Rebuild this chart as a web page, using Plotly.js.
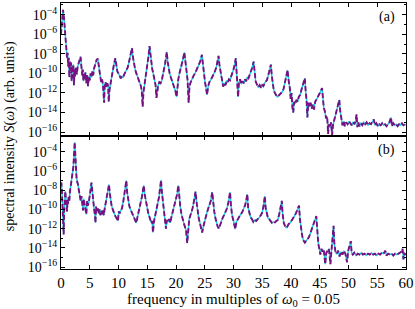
<!DOCTYPE html>
<html>
<head>
<meta charset="utf-8">
<script src="https://cdn.plot.ly/plotly-3.0.1.min.js"></script>
<style>html,body{margin:0;padding:0;background:#fff;}#plot{width:415px;height:309px;}</style>
</head>
<body>
<div id="plot"></div>
<script>
// Panel (a): frequency (multiples of w0) and log10 of spectral intensity
const freqA = [0.0,0.15,0.35,0.5,0.65,0.8,0.95,1.05,1.15,1.25,1.35,1.45,1.55,1.65,1.75,1.85,1.95,2.05,2.15,2.25,2.35,2.45,2.6,2.75,2.9,3.05,3.2,3.4,3.55,3.7,3.8,3.9,4.0,4.1,4.25,4.4,4.55,4.7,4.85,5.0,5.15,5.3,5.45,5.6,5.75,5.9,6.05,6.2,6.4,6.55,6.7,6.85,7.0,7.15,7.3,7.5,7.6,7.75,7.9,8.05,8.2,8.3,8.45,8.6,8.75,8.9,9.05,9.2,9.45,9.6,9.8,10.0,10.2,10.4,10.6,10.8,11.0,11.2,11.4,11.6,11.8,12.0,12.2,12.35,12.5,12.7,12.9,13.1,13.3,13.5,13.7,13.9,14.05,14.2,14.35,14.5,14.65,14.8,14.95,15.1,15.2,15.4,15.55,15.7,15.85,16.0,16.15,16.3,16.45,16.6,16.75,16.9,17.1,17.3,17.5,17.7,17.9,18.1,18.25,18.4,18.55,18.7,18.9,19.1,19.3,19.5,19.7,19.9,20.1,20.25,20.4,20.6,20.8,21.0,21.2,21.45,21.6,21.8,22.0,22.2,22.35,22.55,22.8,23.0,23.3,23.6,23.9,24.2,24.5,24.65,24.85,25.05,25.2,25.4,25.6,25.8,26.1,26.4,26.7,27.0,27.2,27.4,27.55,27.75,27.95,28.2,28.4,28.6,28.8,29.0,29.2,29.4,29.6,29.8,30.0,30.2,30.4,30.55,30.7,30.8,30.95,31.15,31.35,31.6,31.8,32.0,32.2,32.4,32.6,32.8,33.0,33.2,33.5,33.65,33.85,34.05,34.3,34.55,34.8,35.0,35.2,35.4,35.6,35.8,36.0,36.2,36.5,36.65,36.85,37.0,37.2,37.4,37.6,37.8,38.0,38.2,38.45,38.7,38.9,39.1,39.4,39.6,39.8,39.95,40.1,40.25,40.4,40.55,40.75,40.95,41.15,41.35,41.6,41.85,42.1,42.4,42.55,42.7,42.85,43.0,43.2,43.4,43.6,43.8,44.0,44.2,44.4,44.6,44.8,45.1,45.4,45.55,45.7,45.9,46.1,46.3,46.45,46.6,46.8,46.95,47.15,47.3,47.5,47.7,47.9,48.1,48.4,48.55,48.75,48.95,49.15,49.35,49.6,49.85,50.1,50.3,50.55,50.8,51.05,51.25,51.4,51.55,51.7,51.9,52.15,52.4,52.65,52.9,53.15,53.4,53.65,53.9,54.15,54.4,54.6,54.85,55.1,55.35,55.6,55.85,56.1,56.35,56.6,56.85,57.1,57.4,57.55,57.8,58.05,58.3,58.55,58.8,59.05,59.3,59.55,59.8,60.0];
const logSA = [-6.0,-4.6,-3.5,-4.2,-5.6,-6.8,-7.6,-8.4,-7.9,-9.3,-8.4,-10.4,-8.8,-9.7,-8.9,-10.8,-9.2,-9.9,-9.1,-11.2,-9.6,-10.3,-9.4,-10.1,-9.3,-9.0,-8.8,-8.3,-9.3,-10.2,-9.6,-10.8,-10.0,-10.6,-9.9,-11.0,-10.2,-11.3,-10.3,-10.7,-10.0,-10.4,-9.8,-10.2,-9.5,-9.2,-8.9,-8.6,-8.5,-9.3,-9.9,-10.4,-10.9,-10.6,-11.2,-13.0,-11.2,-10.9,-11.4,-11.0,-11.3,-12.9,-11.6,-11.0,-10.6,-10.1,-9.5,-9.1,-8.45,-9.2,-9.8,-10.0,-10.2,-10.5,-10.3,-10.4,-10.1,-9.9,-9.7,-9.4,-8.9,-8.4,-7.9,-7.4,-8.3,-9.1,-9.6,-10.0,-10.3,-10.6,-11.0,-11.3,-11.8,-13.4,-11.9,-11.3,-10.8,-10.3,-9.6,-8.9,-8.3,-7.2,-8.2,-9.0,-9.5,-9.9,-10.3,-10.7,-11.2,-12.5,-11.5,-11.2,-10.9,-11.0,-10.8,-10.3,-9.6,-9.0,-8.4,-7.8,-8.8,-9.5,-10.0,-10.4,-10.7,-11.0,-11.4,-11.8,-12.4,-11.3,-10.6,-10.0,-9.6,-9.2,-8.6,-7.85,-8.7,-9.5,-10.6,-13.0,-11.3,-10.9,-10.5,-10.3,-10.0,-9.65,-9.3,-8.8,-8.1,-9.0,-10.1,-10.9,-11.4,-12.2,-11.3,-10.9,-10.6,-10.3,-9.9,-9.4,-8.9,-8.2,-9.1,-9.9,-10.7,-11.35,-11.0,-11.2,-10.8,-10.9,-10.6,-10.7,-10.3,-10.0,-9.6,-9.1,-8.45,-10.0,-11.3,-12.4,-10.9,-10.6,-11.1,-10.8,-11.0,-10.6,-10.8,-10.4,-10.5,-10.2,-9.9,-9.5,-8.8,-10.0,-10.8,-11.1,-11.4,-11.2,-11.5,-11.2,-11.3,-11.0,-10.9,-10.7,-10.3,-9.8,-9.1,-10.2,-11.2,-11.7,-12.0,-12.2,-12.4,-12.3,-12.2,-12.1,-11.9,-11.6,-11.1,-10.6,-9.65,-10.8,-11.5,-12.6,-12.0,-13.5,-14.0,-12.9,-13.1,-12.7,-12.9,-12.4,-12.2,-11.6,-11.1,-10.5,-11.8,-12.7,-14.5,-13.0,-13.4,-13.0,-13.6,-13.2,-13.7,-12.9,-12.7,-12.5,-12.2,-11.9,-11.5,-12.6,-13.5,-13.9,-14.6,-14.4,-16.2,-15.2,-15.5,-15.0,-16.3,-15.3,-14.8,-14.3,-13.8,-13.3,-12.7,-13.8,-14.8,-15.3,-14.9,-15.4,-15.0,-15.2,-14.9,-15.1,-15.3,-15.0,-15.2,-14.8,-14.2,-15.5,-15.0,-15.4,-15.1,-15.3,-15.0,-15.2,-15.0,-15.3,-15.1,-15.2,-15.0,-14.7,-15.3,-15.1,-15.4,-15.2,-15.3,-15.1,-15.3,-15.2,-15.4,-15.2,-15.0,-14.5,-15.4,-15.1,-15.3,-15.2,-15.4,-15.2,-15.3,-15.1,-15.3,-15.2,-15.3];

// Panel (b)
const freqB = [0.0,0.07,0.17,0.3,0.38,0.46,0.55,0.65,0.75,0.85,0.95,1.05,1.15,1.25,1.33,1.45,1.55,1.68,1.8,1.91,2.05,2.14,2.25,2.38,2.5,2.6,2.7,2.85,2.96,3.1,3.25,3.42,3.55,3.7,3.83,3.95,4.1,4.25,4.4,4.55,4.7,4.85,5.0,5.15,5.3,5.45,5.6,5.75,5.9,6.0,6.1,6.25,6.4,6.55,6.7,6.85,7.0,7.15,7.3,7.45,7.6,7.75,7.9,8.05,8.17,8.35,8.5,8.65,8.8,9.0,9.2,9.45,9.65,9.9,10.05,10.2,10.4,10.6,10.8,11.0,11.2,11.36,11.5,11.7,11.9,12.1,12.3,12.5,12.7,12.9,13.1,13.3,13.5,13.7,13.9,14.1,14.25,14.4,14.55,14.75,14.95,15.15,15.35,15.55,15.7,15.85,16.0,16.15,16.3,16.5,16.7,16.87,17.05,17.2,17.4,17.55,17.7,17.9,18.1,18.25,18.4,18.6,18.8,19.0,19.2,19.45,19.7,19.95,20.2,20.4,20.55,20.75,20.95,21.15,21.35,21.55,21.75,21.95,22.1,22.3,22.5,22.7,22.95,23.15,23.4,23.55,23.75,23.95,24.15,24.35,24.55,24.75,24.95,25.15,25.35,25.55,25.8,26.05,26.3,26.45,26.65,26.85,27.05,27.25,27.45,27.65,27.85,28.1,28.35,28.6,28.85,29.1,29.4,29.55,29.75,30.0,30.3,30.5,30.75,31.0,31.25,31.5,31.75,32.0,32.2,32.4,32.55,32.75,32.95,33.2,33.45,33.7,33.95,34.2,34.5,34.75,35.0,35.2,35.45,35.6,35.8,36.0,36.2,36.45,36.7,36.95,37.2,37.45,37.7,37.95,38.15,38.4,38.55,38.75,38.95,39.15,39.35,39.6,39.85,40.1,40.35,40.6,40.85,41.1,41.4,41.55,41.75,41.95,42.15,42.4,42.6,42.85,43.1,43.35,43.6,43.85,44.1,44.4,44.55,44.75,44.9,45.1,45.3,45.5,45.7,45.95,46.15,46.35,46.6,46.85,47.05,47.2,47.4,47.55,47.75,47.95,48.2,48.45,48.7,48.95,49.2,49.45,49.75,49.95,50.15,50.4,50.55,50.75,51.0,51.3,51.6,51.9,52.2,52.5,52.8,53.1,53.4,53.7,54.0,54.3,54.6,54.9,55.2,55.5,55.8,56.1,56.4,56.6,56.9,57.2,57.5,57.8,58.1,58.4,58.7,59.0,59.2,59.4,59.55,59.75,60.0];
const logSB = [-7.3,-7.2,-8.3,-10.0,-10.6,-12.6,-10.2,-8.8,-8.1,-8.9,-9.6,-10.2,-9.0,-9.4,-8.7,-9.1,-8.2,-7.7,-7.4,-6.65,-6.0,-5.6,-4.5,-3.0,-4.4,-5.8,-6.7,-7.2,-7.4,-8.0,-8.4,-9.1,-8.6,-9.3,-10.1,-8.9,-9.4,-9.8,-10.5,-9.1,-9.6,-9.2,-8.7,-7.9,-7.2,-8.3,-9.2,-9.9,-10.6,-11.4,-9.7,-10.3,-9.9,-10.4,-10.0,-10.6,-10.1,-10.5,-10.1,-10.6,-9.9,-9.4,-8.9,-8.4,-8.1,-7.4,-8.4,-9.2,-9.6,-10.0,-10.4,-10.7,-10.9,-11.2,-10.2,-10.4,-10.1,-9.9,-9.3,-8.6,-7.8,-7.0,-8.2,-9.2,-9.7,-10.0,-10.3,-10.5,-10.8,-11.0,-11.4,-10.8,-10.3,-9.8,-9.3,-8.6,-8.0,-7.5,-8.4,-9.2,-9.8,-10.3,-10.7,-11.1,-11.4,-11.2,-12.4,-11.3,-10.9,-10.4,-9.9,-9.5,-8.7,-7.9,-6.95,-8.2,-9.2,-10.3,-11.5,-12.0,-11.1,-11.3,-11.0,-11.4,-10.8,-10.2,-9.6,-9.1,-8.4,-7.5,-8.7,-9.7,-10.5,-11.1,-11.4,-11.8,-12.2,-13.5,-11.9,-11.0,-10.6,-10.3,-9.7,-9.0,-8.15,-9.1,-10.1,-10.9,-11.4,-11.8,-12.4,-11.8,-11.2,-10.8,-10.4,-10.0,-9.6,-9.1,-8.2,-9.2,-10.2,-10.9,-11.4,-11.8,-12.0,-11.6,-11.2,-10.9,-10.6,-10.3,-9.9,-9.3,-8.2,-9.5,-10.6,-11.2,-12.05,-11.3,-11.0,-10.7,-10.5,-10.3,-10.0,-9.6,-9.1,-8.4,-9.8,-10.5,-10.8,-11.0,-11.3,-11.1,-11.2,-11.0,-10.85,-10.6,-10.3,-9.7,-8.6,-9.9,-10.6,-10.9,-11.0,-11.2,-11.4,-11.3,-11.35,-11.2,-11.1,-10.5,-9.9,-9.1,-10.5,-11.4,-11.7,-11.9,-11.8,-11.5,-11.4,-11.2,-11.0,-10.7,-10.4,-10.1,-9.6,-11.0,-12.0,-12.75,-13.2,-13.45,-13.3,-13.1,-12.9,-12.5,-12.0,-11.6,-11.2,-10.7,-12.5,-13.6,-14.0,-14.7,-14.1,-14.4,-14.2,-15.7,-14.5,-14.3,-14.1,-15.7,-13.9,-12.9,-11.7,-13.6,-14.5,-14.6,-14.3,-14.9,-14.4,-14.7,-14.3,-14.6,-15.5,-14.3,-13.9,-13.3,-14.5,-14.7,-14.5,-14.8,-14.6,-14.7,-14.5,-14.7,-14.6,-14.8,-14.6,-14.7,-14.5,-14.7,-14.6,-14.8,-14.6,-14.7,-14.5,-14.6,-14.3,-14.8,-14.6,-14.7,-14.6,-14.8,-14.6,-14.7,-14.6,-14.5,-14.4,-14.1,-15.2,-14.6,-14.7];

const xTicks = [0,5,10,15,20,25,30,35,40,45,50,55,60];
const yMajorExp = [-16,-14,-12,-10,-8,-6,-4];
const yMajorText = ['10<sup>\u221216</sup>','10<sup>\u221214</sup>','10<sup>\u221212</sup>','10<sup>\u221210</sup>','10<sup>\u22128</sup>','10<sup>\u22126</sup>','10<sup>\u22124</sup>'];
const yMinorExp = [-15,-13,-11,-9,-7,-5,-3];

const toLin = a => a.map(v => Math.pow(10, v));
const cyan = '#1bcbe0', purple = '#7a0f80';
const FONT = 'Liberation Serif, DejaVu Serif, serif';

function trace(x, y, xa, ya, color, dash, w) {
  return {x: x, y: toLin(y), xaxis: xa, yaxis: ya, type: 'scatter', mode: 'lines',
    line: {color: color, width: w, dash: dash}, hoverinfo: 'skip', showlegend: false};
}

const data = [
  trace(freqA, logSA, 'x', 'y', cyan, 'solid', 1.4),
  trace(freqA, logSA, 'x', 'y', purple, '5px,2.5px', 1.9),
  trace(freqB, logSB, 'x2', 'y2', cyan, 'solid', 1.4),
  trace(freqB, logSB, 'x2', 'y2', purple, '5px,2.5px', 1.9)
];

const xBase = {range: [0, 60], tickvals: xTicks, ticks: 'inside', ticklen: 4, tickcolor: '#000',
  showline: true, linecolor: '#000', linewidth: 1, mirror: 'ticks', showgrid: false, zeroline: false,
  tickfont: {family: FONT, size: 15, color: '#000'}};
const yBase = {type: 'log', tickvals: toLin(yMajorExp), ticktext: yMajorText,
  ticks: 'inside', ticklen: 4, tickcolor: '#000',
  minor: {tickvals: toLin(yMinorExp), ticks: 'inside', ticklen: 2, tickcolor: '#000'},
  showline: true, linecolor: '#000', linewidth: 1, mirror: 'ticks', showgrid: false, zeroline: false,
  tickfont: {family: FONT, size: 14, color: '#000'}};

const layout = {
  width: 415, height: 309,
  margin: {l: 61, r: 9, t: 3, b: 40},
  paper_bgcolor: '#fff', plot_bgcolor: '#fff',
  font: {family: FONT, color: '#000'},
  xaxis: Object.assign({}, xBase, {domain: [0, 1], anchor: 'y', showticklabels: false}),
  yaxis: Object.assign({}, yBase, {domain: [0.5, 1], anchor: 'x', range: [-16.4, -2.8]}),
  xaxis2: Object.assign({}, xBase, {domain: [0, 1], anchor: 'y2',
    title: {text: 'frequency in multiples of <i>\u03c9</i><sub>0</sub> = 0.05', font: {family: FONT, size: 15, color: '#000'}, standoff: 2}}),
  yaxis2: Object.assign({}, yBase, {domain: [0, 0.5], anchor: 'x2', range: [-16.2, -2.35]}),
  annotations: [
    {text: '(a)', xref: 'paper', yref: 'paper', x: 0.975, y: 0.985, xanchor: 'right', yanchor: 'top', showarrow: false, font: {family: FONT, size: 14, color: '#000'}},
    {text: '(b)', xref: 'paper', yref: 'paper', x: 0.975, y: 0.485, xanchor: 'right', yanchor: 'top', showarrow: false, font: {family: FONT, size: 14, color: '#000'}},
    {text: 'spectral intensity <i>S</i>(<i>\u03c9</i>) (arb. units)', xref: 'paper', yref: 'paper', x: -0.147, y: 0.5, xanchor: 'center', yanchor: 'middle', textangle: -90, showarrow: false, font: {family: FONT, size: 14, color: '#000'}}
  ]
};

Plotly.newPlot('plot', data, layout, {staticPlot: true, displayModeBar: false});
</script>
</body>
</html>
